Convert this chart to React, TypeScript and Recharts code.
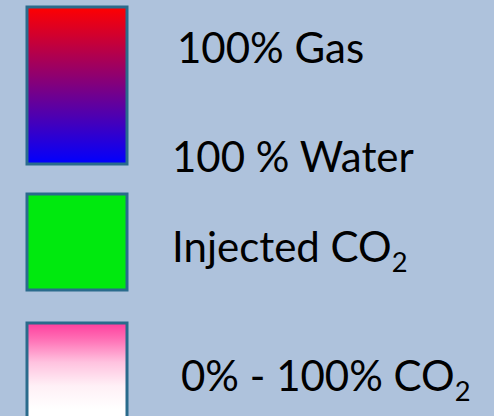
import React from 'react';
import { BarChart, Bar, XAxis, YAxis, LabelList } from 'recharts';

// Legend swatches, stacked top to bottom (gap entries are invisible spacers)
const swatchKeys = ['gap0', 'gasWater', 'gap1', 'injected', 'gap2', 'co2'];
const swatchHeights = [7, 157, 30, 96, 33, 157];
const swatchLabels: Record<string, string[]> = {
  gasWater: ['100% Gas', '100 % Water'],
  injected: ['Injected CO|2'],
  co2: ['0% - 100% CO|2'],
};

const row: Record<string, any> = { name: 'legend' };
swatchKeys.forEach((k, i) => {
  row[k] = swatchHeights[i];
});
const data = [row];

const FONT = 'Lato, "Open Sans", sans-serif';
const FS = 42;
const BORDER = '#2a6b8c';

const renderText = (label: string, x: number, y: number, key: string) => {
  const parts = label.split('|');
  return (
    <text key={key} x={x} y={y} fontFamily={FONT} fontSize={FS} fill="#000">
      <tspan>{parts[0]}</tspan>
      {parts[1] ? (
        <tspan dy={10} fontSize={FS * 0.65}>
          {parts[1]}
        </tspan>
      ) : null}
    </text>
  );
};

const makeLabel = (seriesKey: string) => (props: any) => {
  const { x, y, width, height } = props;
  const x0 = Number(x);
  const w = Number(width);
  const y0 = Number(y);
  const h = Number(height);
  const right = Math.max(x0, x0 + w);
  const top = Math.min(y0, y0 + h);
  const bottom = Math.max(y0, y0 + h);
  const labels = swatchLabels[seriesKey];
  if (seriesKey === 'gasWater') {
    return (
      <g>
        {renderText(labels[0], right + 50, top + 56, 'a')}
        {renderText(labels[1], right + 45, bottom + 8, 'b')}
      </g>
    );
  }
  if (seriesKey === 'injected') {
    return <g>{renderText(labels[0], right + 45, top + 68, 'c')}</g>;
  }
  return <g>{renderText(labels[0], right + 54, top + 68, 'd')}</g>;
};

const fills: Record<string, string> = {
  gasWater: 'url(#gasWaterGrad)',
  injected: '#00e90e',
  co2: 'url(#co2Grad)',
};

export default function App() {
  return (
    <div
      style={{
        position: 'absolute',
        left: 0,
        top: 0,
        width: 494,
        height: 416,
        overflow: 'hidden',
        background: '#aec2dc',
      }}
    >
      <BarChart
        width={494}
        height={480}
        data={data}
        margin={{ top: 0, right: 341, bottom: 0, left: 0 }}
        barCategoryGap={0}
      >
        <defs>
          <linearGradient id="gasWaterGrad" x1="0" y1="0" x2="0" y2="1">
            <stop offset="0%" stopColor="#ff0000" />
            <stop offset="100%" stopColor="#0000ff" />
          </linearGradient>
          <linearGradient id="co2Grad" x1="0" y1="0" x2="0" y2="1">
            <stop offset="0%" stopColor="#ff3d9d" />
            <stop offset="10%" stopColor="#ff6db4" />
            <stop offset="25%" stopColor="#ffc2df" />
            <stop offset="40%" stopColor="#fff0f6" />
            <stop offset="55%" stopColor="#ffffff" />
            <stop offset="100%" stopColor="#ffffff" />
          </linearGradient>
        </defs>
        <XAxis dataKey="name" type="category" hide />
        <YAxis type="number" domain={[0, 480]} reversed hide allowDataOverflow />
        {swatchKeys.map((k) => {
          const visible = !k.startsWith('gap');
          return (
            <Bar
              key={k}
              dataKey={k}
              stackId="s"
              barSize={100}
              fill={visible ? fills[k] : 'transparent'}
              stroke={visible ? BORDER : 'none'}
              strokeWidth={visible ? 3 : 0}
              isAnimationActive={false}
            >
              {visible ? <LabelList dataKey={k} content={makeLabel(k)} /> : null}
            </Bar>
          );
        })}
      </BarChart>
    </div>
  );
}
